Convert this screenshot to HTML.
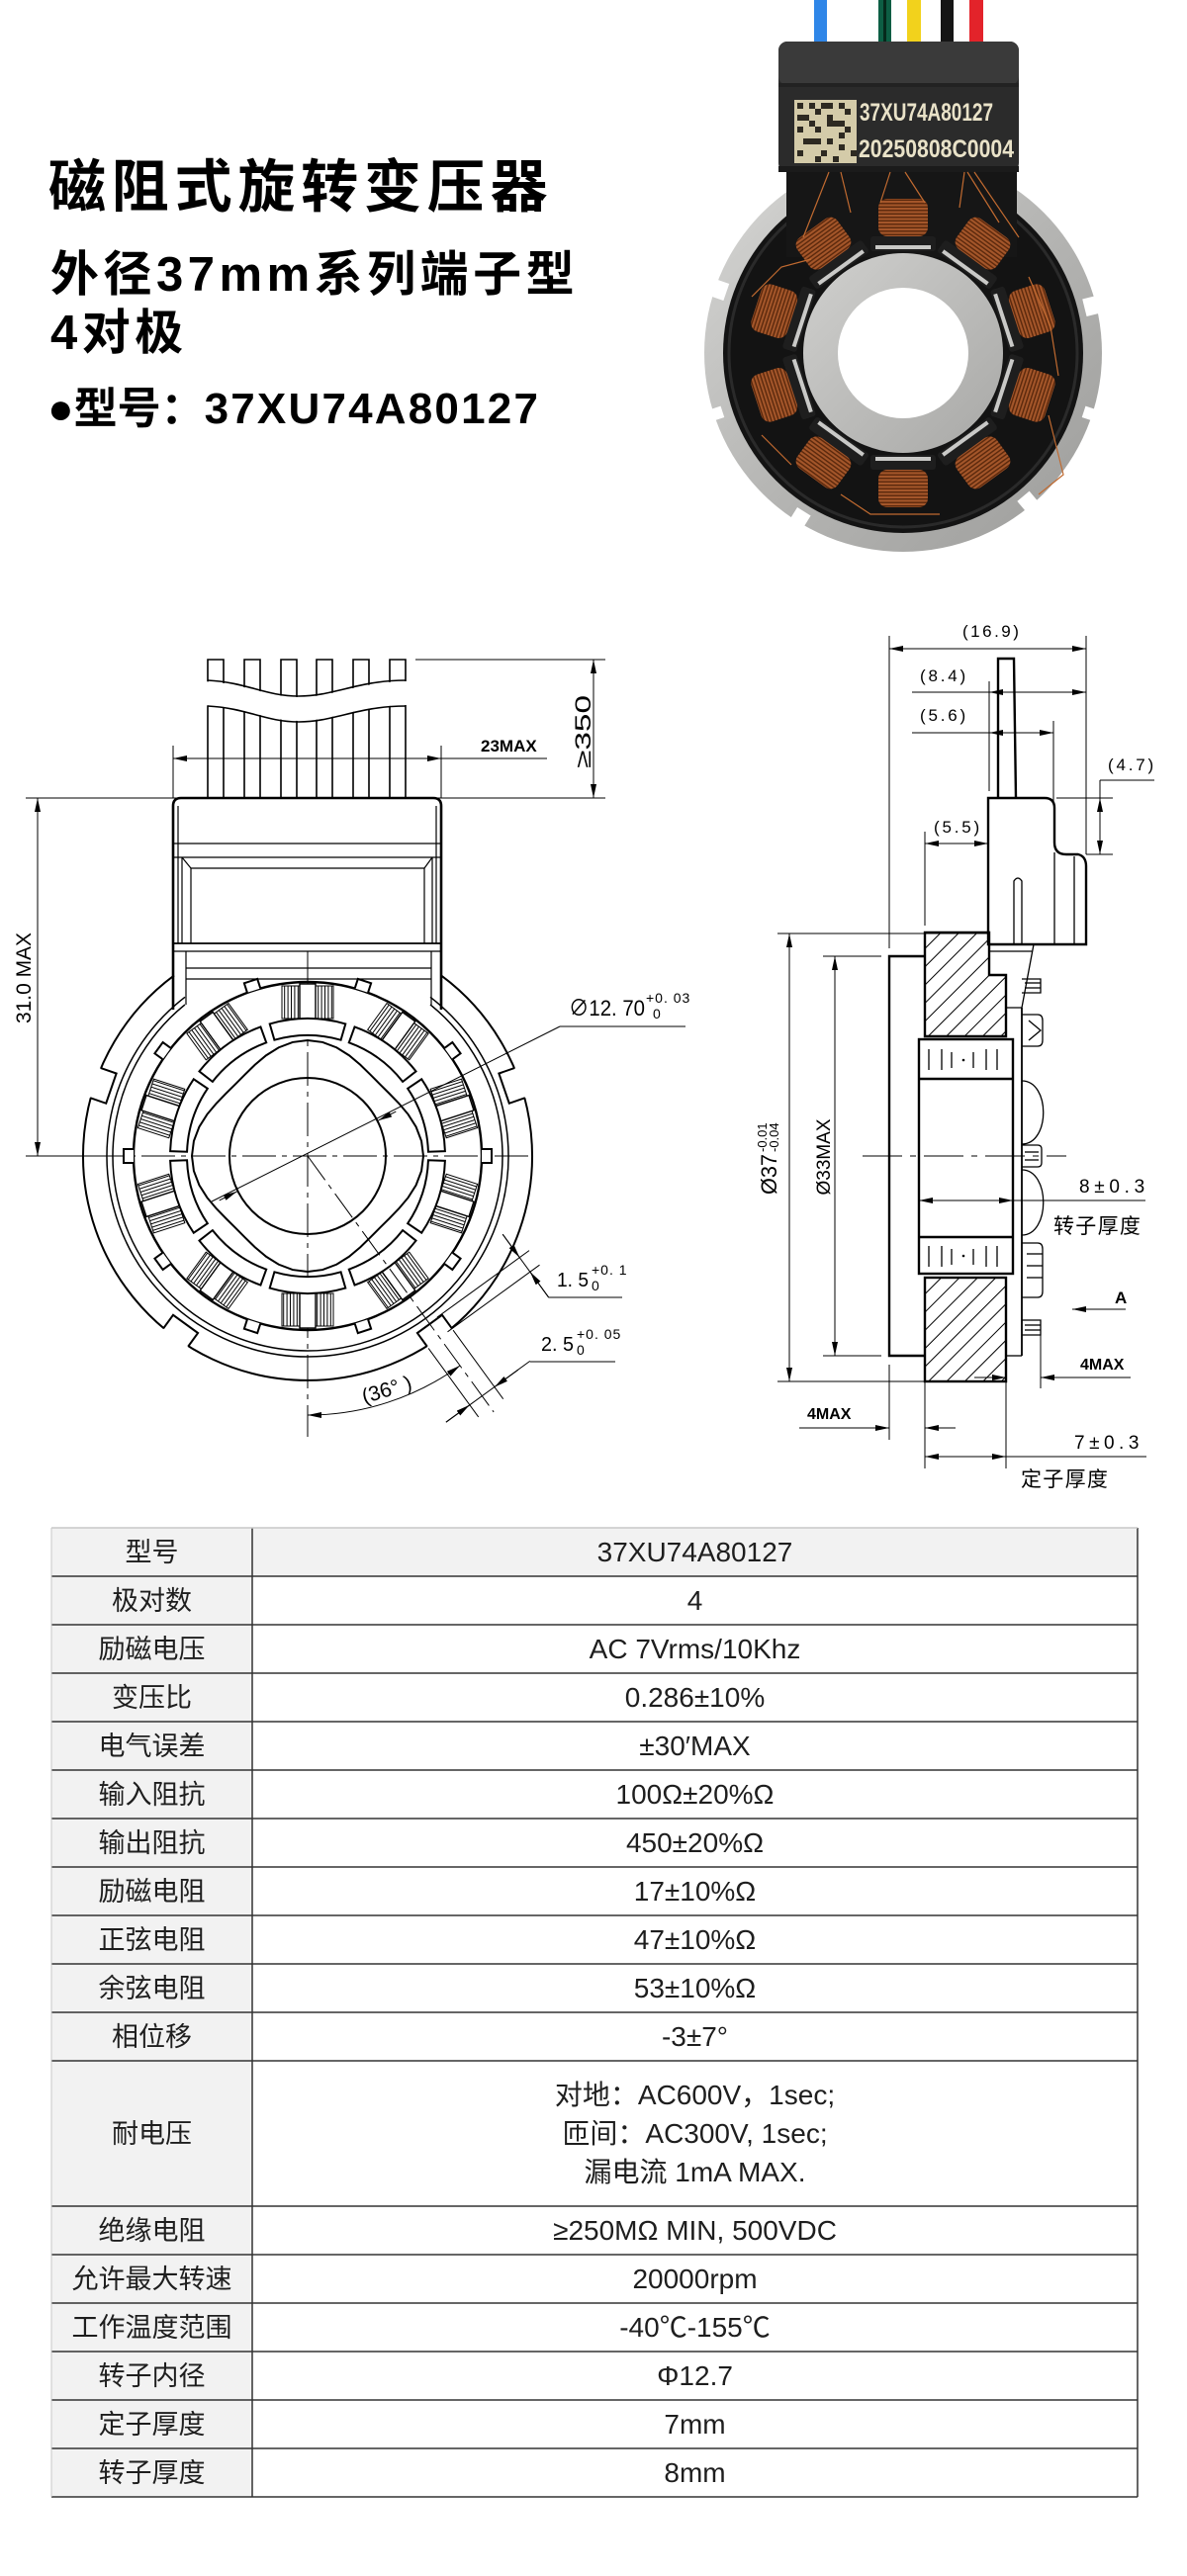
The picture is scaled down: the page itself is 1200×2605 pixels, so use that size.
<!DOCTYPE html>
<html><head><meta charset="utf-8"><style>
html,body{margin:0;padding:0;background:#fff;}
body{width:1200px;height:2605px;overflow:hidden;position:relative;}
svg{position:absolute;left:0;top:0;}
text{font-family:"Liberation Sans","Noto Sans CJK SC",sans-serif;}
</style></head><body>
<svg width="1200" height="2605" viewBox="0 0 1200 2605" xmlns="http://www.w3.org/2000/svg">
<defs>
<marker id="ar" viewBox="0 0 14 6" refX="14" refY="3" markerWidth="14" markerHeight="6" markerUnits="userSpaceOnUse" orient="auto-start-reverse"><path d="M0 0 L14 3 L0 6 Z" fill="#000"/></marker>
<pattern id="hc" width="8" height="3.4" patternUnits="userSpaceOnUse"><rect width="8" height="1" fill="#000"/></pattern>
<pattern id="h45" width="13" height="13" patternUnits="userSpaceOnUse" patternTransform="rotate(45)"><rect width="1" height="13" fill="#000"/></pattern>
<linearGradient id="sil" x1="0" y1="0" x2="1" y2="1"><stop offset="0" stop-color="#d8d8d6"/><stop offset="0.5" stop-color="#b6b6b4"/><stop offset="1" stop-color="#9c9c9a"/></linearGradient>
<linearGradient id="rot" x1="0" y1="0" x2="1" y2="1"><stop offset="0" stop-color="#d0d0ce"/><stop offset="1" stop-color="#a8a8a6"/></linearGradient>
<pattern id="cu" width="3.5" height="6" patternUnits="userSpaceOnUse"><rect width="3.5" height="6" fill="#a4562a"/><rect width="1.4" height="6" fill="#5a280c"/></pattern>
<g id="tooth">
 <rect x="139" y="-26" width="33" height="52" fill="url(#hc)" stroke="#000" stroke-width="1"/>
 <rect x="136" y="-8" width="38" height="16" fill="#fff" stroke="#000" stroke-width="1.4"/>
 <path d="M117.3 -33.6 A122 122 0 0 1 117.3 33.6 L133.6 38.3 A139 139 0 0 0 133.6 -38.3 Z" fill="#fff" stroke="#000" stroke-width="2"/>
</g>
<g id="tab"><path d="M176 -7 H186 V7 H176" fill="#fff" stroke="#000" stroke-width="2"/></g>
<g id="coil">
 <rect x="103" y="-33" width="15" height="66" rx="3" fill="#1e1e1e"/>
 <rect x="105" y="-28" width="4" height="56" fill="#c9c9c7"/>
 <rect x="118" y="-25" width="38" height="50" rx="9" fill="url(#cu)"/>
</g>
</defs>

<!-- ============ TITLE ============ -->
<text x="49" y="209" font-size="58" font-weight="bold" letter-spacing="5.8">磁阻式旋转变压器</text>
<text x="51" y="294" font-size="49" font-weight="bold" letter-spacing="4.5">外径37mm系列端子型</text>
<text x="51" y="353" font-size="49" font-weight="bold" letter-spacing="4.5">4对极</text>
<text x="48" y="428" font-size="44" font-weight="bold"><tspan>●型号：</tspan><tspan letter-spacing="2.2">37XU74A80127</tspan></text>

<!-- ============ PHOTO ============ -->
<g>
 <rect x="823" y="0" width="13" height="50" fill="#2f86e8"/>
 <rect x="888" y="0" width="13" height="50" fill="#0d5e44"/>
 <rect x="893" y="0" width="3" height="50" fill="#062a1c"/>
 <rect x="917" y="0" width="14" height="50" fill="#f2d21c"/>
 <rect x="951" y="0" width="13" height="50" fill="#151515"/>
 <rect x="980" y="0" width="14" height="50" fill="#e3232a"/>
 <g transform="translate(913 357)">
  <circle r="201" fill="url(#sil)"/>
  <g fill="#fff">
   <rect transform="rotate(199)" x="189" y="-9" width="16" height="18"/>
   <rect transform="rotate(-14)" x="189" y="-9" width="16" height="18"/>
   <rect transform="rotate(122)" x="189" y="-8" width="16" height="16"/>
   <rect transform="rotate(50)" x="189" y="-8" width="16" height="16"/>
   <rect transform="rotate(162)" x="192" y="-6" width="12" height="12"/>
   <rect transform="rotate(18)" x="192" y="-6" width="12" height="12"/>
  </g>
  <circle r="182" fill="#131313"/>
  <circle r="176" fill="none" stroke="#2a2a2a" stroke-width="3"/>
 </g>
 <rect x="795" y="150" width="233" height="110" fill="#161616"/>
 <rect x="787" y="42" width="243" height="132" rx="9" fill="#2b2b2b"/>
 <rect x="787" y="42" width="243" height="44" rx="9" fill="#3a3a3a"/>
 <rect x="787" y="84" width="243" height="4" fill="#222"/>
 <rect x="787" y="168" width="243" height="6" fill="#1b1b1b"/>
 <rect x="803" y="101" width="63" height="64" fill="#d4cba9"/>
 <g fill="#2e2a22">
  <rect x="806" y="104" width="6" height="6"/><rect x="818" y="104" width="6" height="6"/><rect x="830" y="104" width="12" height="6"/><rect x="848" y="104" width="6" height="6"/>
  <rect x="854" y="110" width="6" height="6"/><rect x="812" y="116" width="6" height="6"/><rect x="836" y="116" width="6" height="12"/><rect x="824" y="110" width="6" height="6"/>
  <rect x="842" y="122" width="12" height="6"/><rect x="806" y="128" width="6" height="6"/><rect x="824" y="128" width="6" height="6"/><rect x="854" y="128" width="6" height="6"/>
  <rect x="818" y="140" width="12" height="6"/><rect x="836" y="140" width="6" height="6"/><rect x="848" y="146" width="6" height="6"/><rect x="806" y="152" width="6" height="6"/>
  <rect x="830" y="152" width="6" height="6"/><rect x="860" y="152" width="6" height="6"/><rect x="812" y="140" width="6" height="6"/><rect x="842" y="158" width="6" height="6"/>
  <rect x="818" y="122" width="6" height="6"/><rect x="806" y="116" width="6" height="6"/><rect x="848" y="134" width="6" height="6"/><rect x="824" y="158" width="6" height="6"/>
 </g>
 <text x="869" y="122" font-size="25" font-weight="bold" fill="#e9e2c8" textLength="135" lengthAdjust="spacingAndGlyphs">37XU74A80127</text>
 <text x="868" y="159" font-size="25" font-weight="bold" fill="#e9e2c8" textLength="157" lengthAdjust="spacingAndGlyphs">20250808C0004</text>
 <g transform="translate(913 357)">
  <use href="#coil" transform="rotate(-90)"/><use href="#coil" transform="rotate(-54)"/><use href="#coil" transform="rotate(-18)"/>
  <use href="#coil" transform="rotate(18)"/><use href="#coil" transform="rotate(54)"/><use href="#coil" transform="rotate(90)"/>
  <use href="#coil" transform="rotate(126)"/><use href="#coil" transform="rotate(162)"/><use href="#coil" transform="rotate(198)"/>
  <use href="#coil" transform="rotate(234)"/>
  <circle r="101" fill="url(#rot)"/>
  <circle r="66" fill="#fff"/>
 </g>
 <g stroke="#c06a30" stroke-width="1.2" fill="none">
  <path d="M838 174 L812 240"/><path d="M850 174 L860 215"/><path d="M900 174 L890 205"/><path d="M915 174 L935 205"/>
  <path d="M975 174 L970 210"/><path d="M978 174 L1010 225"/><path d="M985 174 L1030 240"/>
  <path d="M1040 280 L1062 330 L1070 380"/><path d="M760 300 L790 270 L820 262"/><path d="M770 440 L800 470"/>
  <path d="M1060 420 L1075 480 L1050 500"/><path d="M850 500 L880 520 L950 520"/>
 </g>
</g>

<!-- ============ LEFT DRAWING ============ -->
<g fill="none" stroke="#000">
 <g stroke-width="1.6">
  <path d="M210 807 V667 H226 V807"/><path d="M247 807 V667 H263 V807"/><path d="M284 807 V667 H300 V807"/>
  <path d="M320 807 V667 H336 V807"/><path d="M357 807 V667 H373 V807"/><path d="M394 807 V667 H410 V807"/>
 </g>
 <path d="M205 689 C250 691, 268 705, 302 705 C338 705, 362 689, 415 689 L415 713 C362 713, 338 729, 302 729 C268 729, 250 715, 205 713 Z" fill="#fff" stroke="none"/>
 <path d="M210 688 C250 690, 268 704, 302 704 C338 704, 362 688, 410 688" stroke-width="1.6"/>
 <path d="M210 714 C250 716, 268 730, 302 730 C338 730, 362 714, 410 714" stroke-width="1.6"/>

 <g stroke-width="1">
  <line x1="420" y1="667" x2="612" y2="667"/>
  <line x1="26" y1="807" x2="612" y2="807"/>
  <line x1="175" y1="754" x2="175" y2="807"/>
  <line x1="446" y1="754" x2="446" y2="807"/>
  <line x1="175" y1="767" x2="553" y2="767" marker-start="url(#ar)"/>
  <line x1="420" y1="767" x2="446" y2="767" marker-end="url(#ar)"/>
  <line x1="600" y1="667" x2="600" y2="807" marker-start="url(#ar)" marker-end="url(#ar)"/>
  <line x1="38" y1="807" x2="38" y2="1169" marker-start="url(#ar)" marker-end="url(#ar)"/>
  <line x1="26" y1="1169" x2="92" y2="1169"/>
  <line x1="92" y1="1169" x2="540" y2="1169" stroke-dasharray="34 6 5 6"/>
  <line x1="311" y1="962" x2="311" y2="1453" stroke-dasharray="34 6 5 6"/>
 </g>

 <!-- connector -->
 <path d="M175 1021 V815 Q175 807 183 807 H438 Q446 807 446 815 V1021" stroke-width="2.6"/>
 <g stroke-width="1.2">
  <line x1="175" y1="853" x2="446" y2="853"/>
  <line x1="175" y1="867" x2="446" y2="867"/>
  <line x1="180" y1="815" x2="180" y2="954"/>
  <line x1="441" y1="815" x2="441" y2="954"/>
  <line x1="184" y1="867" x2="193" y2="878"/>
  <line x1="437" y1="867" x2="429" y2="878"/>
  <line x1="193" y1="878" x2="429" y2="878"/>
  <line x1="193" y1="878" x2="193" y2="954"/>
  <line x1="429" y1="878" x2="429" y2="954"/>
  <line x1="184" y1="867" x2="184" y2="954"/>
  <line x1="437" y1="867" x2="437" y2="954"/>
  <line x1="175" y1="954" x2="446" y2="954" stroke-width="1.8"/>
  <line x1="188" y1="962" x2="436" y2="962"/>
  <line x1="188" y1="962" x2="188" y2="1016"/>
  <line x1="436" y1="962" x2="436" y2="1016"/>
  <line x1="188" y1="979" x2="436" y2="979"/>
  <line x1="188" y1="990" x2="436" y2="990"/>
  <path d="M175 954 V962 H188"/><path d="M446 954 V962 H436"/>
 </g>

 <g transform="translate(311 1169)">
  <path d="M135 -182.6 A227 227 0 1 1 -135 -182.6" stroke-width="2"/>
  <g transform="rotate(-19)"><rect x="209" y="-16" width="21" height="32" fill="#fff" stroke="none"/><path d="M227 -16 H210 V16 H227" stroke-width="2"/></g>
  <g transform="rotate(199)"><rect x="209" y="-16" width="21" height="32" fill="#fff" stroke="none"/><path d="M227 -16 H210 V16 H227" stroke-width="2"/></g>
  <g transform="rotate(54)"><rect x="209" y="-15.5" width="21" height="31" fill="#fff" stroke="none"/><path d="M227 -15.5 H210 V15.5 H227" stroke-width="2"/></g>
  <g transform="rotate(126)"><rect x="209" y="-15.5" width="21" height="31" fill="#fff" stroke="none"/><path d="M227 -15.5 H210 V15.5 H227" stroke-width="2"/></g>
  <path d="M124 -160.7 A203 203 0 1 1 -124 -160.7" stroke-width="1.5"/>
  <path d="M124 -153.1 A197 197 0 1 1 -124 -153.1" stroke-width="1.5"/>
  <circle r="176" stroke-width="2.4"/>
  <use href="#tab" transform="rotate(-72)"/><use href="#tab" transform="rotate(-36)"/><use href="#tab" transform="rotate(0)"/>
  <use href="#tab" transform="rotate(36)"/><use href="#tab" transform="rotate(72)"/><use href="#tab" transform="rotate(108)"/>
  <use href="#tab" transform="rotate(144)"/><use href="#tab" transform="rotate(180)"/><use href="#tab" transform="rotate(216)"/>
  <use href="#tab" transform="rotate(252)"/>
  <use href="#tooth" transform="rotate(-90)"/><use href="#tooth" transform="rotate(-54)"/><use href="#tooth" transform="rotate(-18)"/>
  <use href="#tooth" transform="rotate(18)"/><use href="#tooth" transform="rotate(54)"/><use href="#tooth" transform="rotate(90)"/>
  <use href="#tooth" transform="rotate(126)"/><use href="#tooth" transform="rotate(162)"/><use href="#tooth" transform="rotate(198)"/>
  <use href="#tooth" transform="rotate(234)"/>
  <polygon stroke-width="2" points="117,0 115.07,15.15 109.63,29.38 101.63,42.09 92.23,53.25 82.46,63.27 72.83,72.83 63.27,82.46 53.25,92.23 42.09,101.63 29.38,109.63 15.15,115.07 0,117 -15.15,115.07 -29.38,109.63 -42.09,101.63 -53.25,92.23 -63.27,82.46 -72.83,72.83 -82.46,63.27 -92.23,53.25 -101.63,42.09 -109.63,29.38 -115.07,15.15 -117,0 -115.07,-15.15 -109.63,-29.38 -101.63,-42.09 -92.23,-53.25 -82.46,-63.27 -72.83,-72.83 -63.27,-82.46 -53.25,-92.23 -42.09,-101.63 -29.38,-109.63 -15.15,-115.07 0,-117 15.15,-115.07 29.38,-109.63 42.09,-101.63 53.25,-92.23 63.27,-82.46 72.83,-72.83 82.46,-63.27 92.23,-53.25 101.63,-42.09 109.63,-29.38 115.07,-15.15"/>
  <circle r="79" stroke-width="2"/>
  <line x1="0" y1="0" x2="188.1" y2="258.9" stroke-width="1" stroke-dasharray="30 6 5 6"/>
 </g>

 <!-- dia 12.70 -->
 <g stroke-width="1">
  <line x1="214" y1="1215" x2="566" y2="1038"/>
  <line x1="566" y1="1038" x2="693" y2="1038"/>
  <line x1="400.3" y1="1124.1" x2="382.4" y2="1133.1" marker-end="url(#ar)"/>
  <line x1="221.7" y1="1213.9" x2="239.6" y2="1204.9" marker-end="url(#ar)"/>
  <!-- 1.5 -->
  <line x1="441.9" y1="1332.2" x2="535" y2="1264.6"/>
  <line x1="452.5" y1="1346.8" x2="545.5" y2="1279.2"/>
  <line x1="508.2" y1="1248.2" x2="554.7" y2="1312.1"/>
  <line x1="508.2" y1="1248.2" x2="525.3" y2="1271.7" marker-end="url(#ar)"/>
  <line x1="554.7" y1="1312.1" x2="535.9" y2="1286.2" marker-end="url(#ar)"/>
  <line x1="554.7" y1="1312" x2="629" y2="1312"/>
  <!-- 2.5 -->
  <line x1="458.1" y1="1345.2" x2="508.7" y2="1414.7"/>
  <line x1="433.1" y1="1363.4" x2="483.7" y2="1432.9"/>
  <line x1="535.8" y1="1376.4" x2="450.9" y2="1438.2"/>
  <line x1="523.7" y1="1385.3" x2="499.9" y2="1402.6" marker-end="url(#ar)"/>
  <line x1="450.9" y1="1438.2" x2="474.8" y2="1420.8" marker-end="url(#ar)"/>
  <line x1="535.8" y1="1377" x2="622" y2="1377"/>
  <!-- 36 deg arc -->
  <path d="M465 1381 A262 262 0 0 1 311 1431" marker-start="url(#ar)" marker-end="url(#ar)"/>
 </g>
</g>
<g fill="#000">
 <text x="486" y="760" font-size="17" font-weight="bold">23MAX</text>
 <text transform="translate(597 740) rotate(-90)" font-size="22" text-anchor="middle" textLength="74" lengthAdjust="spacingAndGlyphs">≥350</text>
 <text transform="translate(31 989) rotate(-90)" font-size="21" text-anchor="middle" textLength="92" lengthAdjust="spacingAndGlyphs">31.0 MAX</text>
 <text x="575" y="1027" font-size="22" textLength="77" lengthAdjust="spacingAndGlyphs">∅12. 70</text>
 <text x="653" y="1014" font-size="14" letter-spacing="1">+0. 03</text>
 <text x="660" y="1030" font-size="14">0</text>
 <text x="563" y="1301" font-size="20" textLength="32" lengthAdjust="spacingAndGlyphs">1. 5</text>
 <text x="598" y="1289" font-size="14" letter-spacing="1">+0. 1</text>
 <text x="598" y="1305" font-size="14">0</text>
 <text x="547" y="1366" font-size="20" textLength="33" lengthAdjust="spacingAndGlyphs">2. 5</text>
 <text x="583" y="1354" font-size="14" letter-spacing="1">+0. 05</text>
 <text x="583" y="1370" font-size="14">0</text>
 <text transform="translate(393 1412) rotate(-17)" font-size="21" text-anchor="middle">(36°  )</text>
</g>

<!-- ============ RIGHT DRAWING ============ -->
<g fill="none" stroke="#000">
 <g stroke-width="1">
  <line x1="899" y1="643" x2="899" y2="959"/>
  <line x1="1098" y1="643" x2="1098" y2="864"/>
  <line x1="899" y1="656" x2="1098" y2="656" marker-start="url(#ar)" marker-end="url(#ar)"/>
  <line x1="1000" y1="689" x2="1000" y2="800"/>
  <line x1="922" y1="700" x2="1000" y2="700"/>
  <line x1="1000" y1="700" x2="1098" y2="700" marker-start="url(#ar)" marker-end="url(#ar)"/>
  <line x1="1065" y1="729" x2="1065" y2="812"/>
  <line x1="922" y1="741" x2="1000" y2="741"/>
  <line x1="1000" y1="741" x2="1065" y2="741" marker-start="url(#ar)" marker-end="url(#ar)"/>
  <line x1="935" y1="841" x2="935" y2="936"/>
  <line x1="935" y1="853" x2="999" y2="853" marker-start="url(#ar)" marker-end="url(#ar)"/>
  <line x1="1068" y1="807" x2="1125" y2="807"/>
  <line x1="1098" y1="864" x2="1125" y2="864"/>
  <line x1="1112" y1="789" x2="1112" y2="807"/>
  <line x1="1112" y1="807" x2="1112" y2="864" marker-start="url(#ar)" marker-end="url(#ar)"/>
  <line x1="1112" y1="789" x2="1167" y2="789"/>
  <line x1="786" y1="944" x2="1001" y2="944"/>
  <line x1="786" y1="1397" x2="935" y2="1397"/>
  <line x1="798" y1="944" x2="798" y2="1397" marker-start="url(#ar)" marker-end="url(#ar)"/>
  <line x1="832" y1="967" x2="891" y2="967"/>
  <line x1="832" y1="1371" x2="891" y2="1371"/>
  <line x1="844" y1="967" x2="844" y2="1371" marker-start="url(#ar)" marker-end="url(#ar)"/>
  <line x1="929" y1="1214" x2="1024" y2="1214" marker-start="url(#ar)" marker-end="url(#ar)"/>
  <line x1="1024" y1="1214" x2="1158" y2="1214"/>
  <line x1="1138" y1="1324" x2="1084" y2="1324" marker-end="url(#ar)"/>
  <line x1="1143" y1="1393" x2="1052" y2="1393" marker-end="url(#ar)"/>
  <line x1="985" y1="1393" x2="1017" y2="1393" marker-end="url(#ar)"/>
  <line x1="1052" y1="1335" x2="1052" y2="1404"/>
  <line x1="808" y1="1444" x2="899" y2="1444" marker-end="url(#ar)"/>
  <line x1="966" y1="1444" x2="935" y2="1444" marker-end="url(#ar)"/>
  <line x1="899" y1="1380" x2="899" y2="1456"/>
  <line x1="935" y1="1397" x2="935" y2="1485"/>
  <line x1="1017" y1="1397" x2="1017" y2="1485"/>
  <line x1="935" y1="1473" x2="1017" y2="1473" marker-start="url(#ar)" marker-end="url(#ar)"/>
  <line x1="1017" y1="1473" x2="1159" y2="1473"/>
  <line x1="872" y1="1169" x2="1078" y2="1169" stroke-dasharray="40 8 6 8"/>
 </g>
 <g stroke-width="2.4">
  <path d="M1009 807 V666 H1025 L1027 807"/>
  <path d="M999 955 V807 H1056 Q1066 807 1066 817 V852 Q1066 864 1078 864 H1090 Q1098 866 1098 876 V955 Z"/>
  <path d="M935 967 H899 V1371 H935"/>
  <path d="M935 943 H1000 V986 H1017 V1048 H935 Z" fill="url(#h45)"/>
  <rect x="935" y="1292" width="82" height="105" fill="url(#h45)"/>
  <rect x="929" y="1051" width="95" height="237"/>
  <line x1="929" y1="1091" x2="1024" y2="1091"/>
  <line x1="929" y1="1251" x2="1024" y2="1251"/>
 </g>
 <g stroke-width="1.3">
  <line x1="1066" y1="862" x2="1066" y2="955"/>
  <line x1="1086" y1="866" x2="1086" y2="955"/>
  <path d="M1025 955 V891 Q1029 885 1033 891 V955"/>
  <path d="M1000 955 H1045 L1033 1019 H1017"/>
  <line x1="1000" y1="962" x2="1043" y2="962"/>
  <line x1="1033" y1="1019" x2="1033" y2="1371" stroke-width="1.8"/>
  <line x1="1017" y1="1371" x2="1033" y2="1371"/>
  <path d="M1033 990 H1052 V1004 H1033"/><line x1="1036" y1="994" x2="1052" y2="994"/><line x1="1036" y1="999" x2="1052" y2="999"/>
  <path d="M1033 1026 H1049 Q1054 1026 1054 1032 V1052 Q1054 1058 1049 1058 H1033"/><path d="M1040 1032 L1052 1042 L1040 1052"/>
  <path d="M1033 1093 C1062 1093, 1062 1157, 1033 1157"/>
  <path d="M1033 1158 H1049 Q1053 1158 1053 1162 V1176 Q1053 1180 1049 1180 H1033"/><line x1="1036" y1="1165" x2="1050" y2="1165"/><line x1="1036" y1="1173" x2="1050" y2="1173"/>
  <path d="M1033 1183 C1062 1183, 1062 1249, 1033 1249"/>
  <path d="M1033 1257 H1049 Q1054 1257 1054 1263 V1306 Q1054 1312 1049 1312 H1033"/><line x1="1038" y1="1268" x2="1054" y2="1268"/><line x1="1038" y1="1280" x2="1054" y2="1280"/><line x1="1038" y1="1292" x2="1054" y2="1292"/>
  <path d="M1033 1335 H1052 V1350 H1033"/><line x1="1036" y1="1340" x2="1052" y2="1340"/><line x1="1036" y1="1345" x2="1052" y2="1345"/>
  <line x1="939" y1="1061" x2="939" y2="1082"/><line x1="952" y1="1061" x2="952" y2="1082"/><line x1="962" y1="1064" x2="962" y2="1080"/>
  <line x1="984" y1="1064" x2="984" y2="1080"/><line x1="997" y1="1061" x2="997" y2="1082"/><line x1="1008" y1="1061" x2="1008" y2="1082"/>
  <line x1="939" y1="1260" x2="939" y2="1281"/><line x1="952" y1="1260" x2="952" y2="1281"/><line x1="962" y1="1263" x2="962" y2="1279"/>
  <line x1="984" y1="1263" x2="984" y2="1279"/><line x1="997" y1="1260" x2="997" y2="1281"/><line x1="1008" y1="1260" x2="1008" y2="1281"/>
 </g>
 <circle cx="974" cy="1072" r="1.3" fill="#000" stroke="none"/>
 <circle cx="974" cy="1270" r="1.3" fill="#000" stroke="none"/>
</g>
<g fill="#000">
 <text x="973" y="644" font-size="17" letter-spacing="2.5">(16.9)</text>
 <text x="930" y="689" font-size="17" letter-spacing="2.8">(8.4)</text>
 <text x="930" y="729" font-size="17" letter-spacing="2.8">(5.6)</text>
 <text x="944" y="842" font-size="17" letter-spacing="2.8">(5.5)</text>
 <text x="1120" y="779" font-size="17" letter-spacing="2.8">(4.7)</text>
 <g transform="translate(785 1171) rotate(-90)">
  <text x="-37" y="0" font-size="22" textLength="41" lengthAdjust="spacingAndGlyphs">Ø37</text>
  <text x="6" y="-10" font-size="13">-0.01</text>
  <text x="6" y="2" font-size="13">-0.04</text>
 </g>
 <text transform="translate(839 1170) rotate(-90)" font-size="19" text-anchor="middle" textLength="77" lengthAdjust="spacingAndGlyphs">Ø33MAX</text>
 <text x="1091" y="1206" font-size="19" letter-spacing="4.7">8±0.3</text>
 <text x="1065" y="1247" font-size="21" letter-spacing="1.3">转子厚度</text>
 <text x="1127" y="1318" font-size="17" font-weight="bold">A</text>
 <text x="1092" y="1385" font-size="16" font-weight="bold">4MAX</text>
 <text x="816" y="1435" font-size="16" font-weight="bold">4MAX</text>
 <text x="1086" y="1465" font-size="19" letter-spacing="4.5">7±0.3</text>
 <text x="1032" y="1503" font-size="21" letter-spacing="1.3">定子厚度</text>
</g>

<!-- ============ TABLE ============ -->
<g>
 <rect x="52" y="1545" width="203" height="980" fill="#f2f2f2"/>
 <rect x="255" y="1545" width="895" height="49" fill="#f2f2f2"/>
 <g stroke="#333" stroke-width="1.5">
  <line x1="52" y1="1594" x2="1150" y2="1594"/><line x1="52" y1="1643" x2="1150" y2="1643"/><line x1="52" y1="1692" x2="1150" y2="1692"/>
  <line x1="52" y1="1741" x2="1150" y2="1741"/><line x1="52" y1="1790" x2="1150" y2="1790"/><line x1="52" y1="1839" x2="1150" y2="1839"/>
  <line x1="52" y1="1888" x2="1150" y2="1888"/><line x1="52" y1="1937" x2="1150" y2="1937"/><line x1="52" y1="1986" x2="1150" y2="1986"/>
  <line x1="52" y1="2035" x2="1150" y2="2035"/><line x1="52" y1="2084" x2="1150" y2="2084"/><line x1="52" y1="2231" x2="1150" y2="2231"/>
  <line x1="52" y1="2280" x2="1150" y2="2280"/><line x1="52" y1="2329" x2="1150" y2="2329"/><line x1="52" y1="2378" x2="1150" y2="2378"/>
  <line x1="52" y1="2427" x2="1150" y2="2427"/><line x1="52" y1="2476" x2="1150" y2="2476"/><line x1="52" y1="2525" x2="1150" y2="2525"/>
  <line x1="255" y1="1545" x2="255" y2="2525"/>
  <line x1="1150" y1="1545" x2="1150" y2="2525"/>
 </g>
 <line x1="52" y1="1545" x2="1150" y2="1545" stroke="#c8c8c8" stroke-width="1.5"/>
 <line x1="52" y1="1545" x2="52" y2="2525" stroke="#c8c8c8" stroke-width="1"/>
 <g font-size="27" fill="#1e1e1e" text-anchor="middle">
  <text x="153.5" y="1579">型号</text>
  <text x="153.5" y="1628">极对数</text>
  <text x="153.5" y="1677">励磁电压</text>
  <text x="153.5" y="1726">变压比</text>
  <text x="153.5" y="1775">电气误差</text>
  <text x="153.5" y="1824">输入阻抗</text>
  <text x="153.5" y="1873">输出阻抗</text>
  <text x="153.5" y="1922">励磁电阻</text>
  <text x="153.5" y="1971">正弦电阻</text>
  <text x="153.5" y="2020">余弦电阻</text>
  <text x="153.5" y="2069">相位移</text>
  <text x="153.5" y="2167">耐电压</text>
  <text x="153.5" y="2265">绝缘电阻</text>
  <text x="153.5" y="2314">允许最大转速</text>
  <text x="153.5" y="2363">工作温度范围</text>
  <text x="153.5" y="2412">转子内径</text>
  <text x="153.5" y="2461">定子厚度</text>
  <text x="153.5" y="2510">转子厚度</text>
 </g>
 <g font-size="28" fill="#1e1e1e" text-anchor="middle">
  <text x="702.5" y="1579">37XU74A80127</text>
  <text x="702.5" y="1628">4</text>
  <text x="702.5" y="1677">AC 7Vrms/10Khz</text>
  <text x="702.5" y="1726">0.286±10%</text>
  <text x="702.5" y="1775">±30′MAX</text>
  <text x="702.5" y="1824">100Ω±20%Ω</text>
  <text x="702.5" y="1873">450±20%Ω</text>
  <text x="702.5" y="1922">17±10%Ω</text>
  <text x="702.5" y="1971">47±10%Ω</text>
  <text x="702.5" y="2020">53±10%Ω</text>
  <text x="702.5" y="2069">-3±7°</text>
  <text x="702.5" y="2128">对地：AC600V，1sec;</text>
  <text x="702.5" y="2167">匝间：AC300V, 1sec;</text>
  <text x="702.5" y="2206">漏电流 1mA MAX.</text>
  <text x="702.5" y="2265">≥250MΩ MIN, 500VDC</text>
  <text x="702.5" y="2314">20000rpm</text>
  <text x="702.5" y="2363">-40℃-155℃</text>
  <text x="702.5" y="2412">Φ12.7</text>
  <text x="702.5" y="2461">7mm</text>
  <text x="702.5" y="2510">8mm</text>
 </g>
</g>
</svg>
</body></html>
